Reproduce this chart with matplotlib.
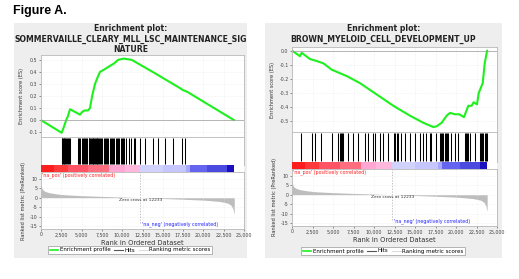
import numpy as np
import matplotlib
matplotlib.use("Agg")
import matplotlib.pyplot as plt
from matplotlib.patches import Rectangle
from matplotlib.lines import Line2D
from matplotlib.ticker import FuncFormatter

plt.rcParams["font.family"] = ["DejaVu Sans"]
plt.rcParams["axes.unicode_minus"] = False

W, H = 519, 279

# ranked list (shared by both panels)
rank_x = [0, 30, 100, 250, 500, 1000, 2000, 3000, 5000, 7500, 10000, 12233,
          14000, 17000, 20000, 22000, 23000, 23400, 23650, 23780, 23800]
rank_y = [8.5, 6.5, 5.0, 4.0, 3.3, 2.6, 1.9, 1.5, 1.05, 0.65, 0.3, 0.0,
          -0.3, -0.75, -1.3, -2.0, -2.9, -4.0, -6.0, -8.5, -8.5]
zero_cross = 12233

bar_edges = [0, 1600, 3300, 5800, 8400, 10300, 12233, 15000, 17800, 18300,
             20500, 22900, 23800]
bar_colors = ["#ff1e1e", "#ff3a3a", "#ff5464", "#ff6e7e", "#ffa6d2", "#ffb8dc",
              "#d2d2ff", "#c6c6ff", "#a8a8ff", "#6464f0", "#4a4ae0", "#1a10c0"]

# left panel
left_title = "Enrichment plot:\nSOMMERVAILLE_CLEARY_MLL_LSC_MAINTENANCE_SIG\nNATURE"
left_es_x = [0, 2545, 2800, 3100, 3300, 3570, 4000, 4800, 5100, 5400, 5800, 6030,
             6300, 6650, 7000, 7266, 7800, 8500, 9000, 9500, 10200, 11170, 14000,
             17000, 17450, 18000, 23770]
left_es_y = [0, -0.105, -0.06, 0.0, 0.03, 0.09, 0.075, 0.045, 0.07, 0.08, 0.08, 0.10,
             0.20, 0.30, 0.36, 0.40, 0.42, 0.45, 0.47, 0.50, 0.51, 0.50, 0.39,
             0.27, 0.25, 0.235, 0.0]
left_hits = [2550, 2620, 2700, 2780, 2860, 2950, 3050, 3150, 3300, 3450, 3580,
             4600, 4700, 4850, 5000, 5150, 5300, 5420, 5550, 5700, 5850, 5950,
             6050, 6150, 6250, 6350, 6450, 6550, 6650, 6750, 6850, 6950, 7050,
             7150, 7250, 7400, 7550, 7700, 7850, 8000, 8150, 8300, 8450, 8600,
             8750, 8900, 9050, 9200, 9350, 9500, 9650, 9800, 9950, 10100, 10250,
             10500, 10800, 11100, 11400, 11580, 12190, 12810, 13830, 14450,
             15270, 16300, 17320, 17730]
left_yticks = [-0.1, 0.0, 0.1, 0.2, 0.3, 0.4, 0.5]

# right panel
right_title = "Enrichment plot:\nBROWN_MYELOID_CELL_DEVELOPMENT_UP"
right_es_x = [0, 975, 1180, 2190, 2800, 3820, 4840, 5850, 6670, 8290, 10330, 12360,
              14390, 16020, 17240, 17640, 18250, 18860, 19270, 19880, 20400, 20970,
              21500, 21900, 22150, 22560, 22770, 23260, 23500, 23800]
right_es_y = [0, -0.04, -0.016, -0.06, -0.07, -0.09, -0.135, -0.16, -0.18, -0.23,
              -0.31, -0.39, -0.46, -0.51, -0.54, -0.535, -0.51, -0.46, -0.44, -0.45,
              -0.45, -0.47, -0.39, -0.39, -0.365, -0.38, -0.30, -0.23, -0.09, 0.0]
right_hits = [1140, 2440, 2760, 3580, 4880, 5610, 5800, 5950, 6100, 6220, 6830,
              7440, 8050, 8940, 9270, 9880, 10170, 10690, 11100, 11700, 12440,
              12600, 12750, 12930, 13330, 13740, 14350, 14960, 15570, 15980, 16390,
              16800, 17000, 17600, 18010, 18150, 18300, 18450, 18600, 18750, 18900,
              19030, 19430, 19840, 20250, 21060, 21200, 21350, 21500, 21670, 22280,
              22890, 23050, 23200, 23350, 23500, 23650, 23800]
right_yticks = [-0.5, -0.4, -0.3, -0.2, -0.1, 0.0]

rank_ticks = [0, 2500, 5000, 7500, 10000, 12500, 15000, 17500, 20000, 22500, 25000]
metric_ticks = [-15, -10, -5, 0, 5, 10]

GREEN = "#1ef01e"
SPINE = "#b8b8b8"
TICK_FS = 3.4


def px_axes(fig, x0, y0, x1, y1):
    return fig.add_axes([x0 / W, 1 - y1 / H, (x1 - x0) / W, (y1 - y0) / H])


def style(ax):
    for s in ax.spines.values():
        s.set_color(SPINE)
        s.set_linewidth(0.6)
    ax.tick_params(labelsize=TICK_FS, length=1.5, width=0.4, pad=1,
                   colors="#444444")


def panel(fig, box, ax_x, rows, title, es_x, es_y, es_ylim, yticks, hits,
          legend_xy, title_y):
    bx0, by0, bx1, by1 = box
    fig.patches.append(Rectangle((bx0 / W, 1 - by1 / H), (bx1 - bx0) / W,
                                 (by1 - by0) / H, transform=fig.transFigure,
                                 facecolor="#eeeeee", edgecolor="none", zorder=-5))
    fig.text((bx0 + bx1) / 2 / W, 1 - title_y / H, title, ha="center", va="top",
             fontsize=5.6, fontweight="bold", color="#222222", linespacing=1.2)
    x0, x1 = ax_x
    r_es, r_hit, r_bar, r_rank = rows

    # enrichment score
    ax = px_axes(fig, x0, r_es, x1, r_hit)
    style(ax)
    ax.plot(es_x, es_y, color=GREEN, lw=1.5, solid_capstyle="round")
    ax.axhline(0, color="#999999", lw=0.5)
    ax.set_xlim(0, 25000)
    ax.set_ylim(*es_ylim)
    ax.set_yticks(yticks)
    ax.set_xticks(rank_ticks)
    ax.set_xticklabels([])
    ax.tick_params(axis="x", length=0)
    ax.yaxis.set_major_formatter(FuncFormatter(lambda v, p: f"{v:.1f}"))
    ax.grid(color="#e4e4e4", lw=0.4, ls=":")
    ax.set_ylabel("Enrichment score (ES)", fontsize=3.6, labelpad=3, color="#333333")

    # hits
    ah = px_axes(fig, x0, r_hit, x1, r_bar)
    style(ah)
    ah.vlines(hits, 0.03, 0.97, color="black", lw=0.75)
    ah.set_xlim(0, 25000)
    ah.set_ylim(0, 1)
    ah.set_xticks([])
    ah.set_yticks([])

    # colour bar
    ab = px_axes(fig, x0, r_bar, x1, r_rank)
    for a, b, c in zip(bar_edges[:-1], bar_edges[1:], bar_colors):
        ab.axvspan(a, b, color=c, lw=0)
    ab.set_xlim(0, 25000)
    ab.set_xticks([])
    ab.set_yticks([])
    for s in ab.spines.values():
        s.set_visible(False)

    # ranked list metric
    ar = px_axes(fig, x0, r_rank, x1, r_rank + 57)
    style(ar)
    ar.fill_between(rank_x, rank_y, 0, color="#bdbdbd", lw=0)
    ar.set_xlim(0, 25000)
    ar.set_ylim(-16.5, 13.5)
    ar.set_xticks(rank_ticks)
    ar.set_xticklabels([f"{t:,}" for t in rank_ticks])
    ar.set_yticks(metric_ticks)
    ar.grid(color="#e4e4e4", lw=0.4, ls=":")
    ar.axvline(zero_cross, ymin=0.1, ymax=1, color="#aaaaaa", lw=0.5, ls=(0, (2, 2)))
    ar.text(150, 13.3, "'na_pos' (positively correlated)", color="#ff2020",
            fontsize=3.4, va="top", ha="left")
    ar.text(zero_cross, -0.3, f"Zero cross at {zero_cross}", color="#333333",
            fontsize=3.2, va="top", ha="center")
    ar.text(12450, -13.8, "'na_neg' (negatively correlated)", color="#2020ff",
            fontsize=3.4, va="center", ha="left")
    ar.set_xlabel("Rank in Ordered Dataset", fontsize=4.8, labelpad=1.5,
                  color="#333333")
    ar.set_ylabel("Ranked list metric (PreRanked)", fontsize=3.6, labelpad=3,
                  color="#333333")

    handles = [Line2D([], [], color=GREEN, lw=1.2),
               Line2D([], [], color="#555555", lw=0.8),
               Line2D([], [], color="#dddddd", lw=0.8)]
    fig.legend(handles, ["Enrichment profile", "Hits", "Ranking metric scores"],
               loc="center", bbox_to_anchor=(legend_xy[0] / W, 1 - legend_xy[1] / H),
               ncol=3, fontsize=4.0, frameon=True, fancybox=False,
               edgecolor="#999999", facecolor="white", handlelength=1.6,
               handletextpad=0.3, columnspacing=0.6, borderpad=0.3,
               framealpha=1).get_frame().set_linewidth(0.5)


fig = plt.figure(figsize=(W / 100, H / 100), dpi=100)
fig.text(13 / W, 1 - 5 / H, "Figure A.", fontsize=9, fontweight="bold",
         family="Liberation Sans", va="top", ha="left")

panel(fig, (14, 23, 247, 258), (41, 244), (55, 137, 165, 172), left_title,
      left_es_x, left_es_y, (-0.14, 0.54), left_yticks, left_hits, (130, 250), 24)
panel(fig, (265, 23, 502, 258), (292, 497), (47, 132, 162, 169), right_title,
      right_es_x, right_es_y, (-0.575, 0.025), right_yticks, right_hits,
      (383, 251), 24)

fig.savefig("out.png", dpi=100)
